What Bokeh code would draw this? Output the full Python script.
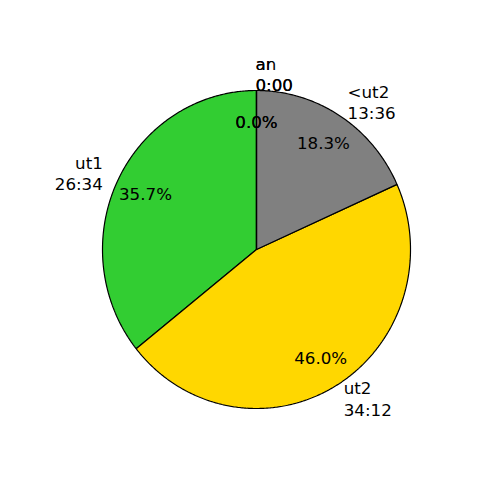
import numpy as np
from bokeh.plotting import figure
from bokeh.models import Range1d, ColumnDataSource
from bokeh.embed import file_html
from bokeh.resources import INLINE
from bokeh.core.properties import value

# ---- data ----
labels = ["ut1", "ut2", "<ut2", "ar", "an"]
seconds = [1594, 2052, 816, 0, 0]          # 26:34, 34:12, 13:36, 0:00, 0:00
colors = ["#32CD32", "#FFD700", "#808080", "#1f77b4", "#ff7f0e"]

start_angle = 90.0
label_dist = 1.1
pct_dist = 0.8

total = float(sum(seconds))
fracs = [s / total for s in seconds]

# ---- figure ----
W, H = 484, 484
cx, cy = 256.0, 249.0     # pie centre in figure pixels
rx, ry = 154.0, 159.0     # pixels per unit radius
p = figure(width=W, height=H, output_backend="svg", toolbar_location=None,
           x_range=Range1d(-cx / rx, (W - cx) / rx),
           y_range=Range1d(-(H - cy) / ry, cy / ry),
           x_axis_type=None, y_axis_type=None, min_border=0)
p.grid.visible = False
p.outline_line_color = None
p.background_fill_color = "white"
p.border_fill_color = "white"

xs, ys = [], []
lab_x, lab_y, lab_t, lab_align = [], [], [], []
pct_x, pct_y, pct_t = [], [], []
theta = start_angle
for lab, sec, fr in zip(labels, seconds, fracs):
    t1 = theta + 360.0 * fr
    ang = np.radians(np.linspace(theta, t1, max(2, int(abs(t1 - theta)) * 2 + 2)))
    xs.append([0.0] + list(np.cos(ang)))
    ys.append([0.0] + list(np.sin(ang)))
    mid = np.radians((theta + t1) / 2.0)
    c, s = np.cos(mid), np.sin(mid)
    lab_x.append(label_dist * c)
    lab_y.append(label_dist * s)
    lab_t.append(f"{lab}\n{sec // 60}:{sec % 60:02d}")
    lab_align.append("left" if c >= 0 else "right")
    pct_x.append(pct_dist * c)
    pct_y.append(pct_dist * s)
    pct_t.append(f"{fr * 100:.1f}%")
    theta = t1

p.patches(xs=xs, ys=ys, fill_color=colors, line_color="black", line_width=1.2)

src = ColumnDataSource(dict(x=lab_x, y=lab_y, text=lab_t, align=lab_align))
p.text(x="x", y="y", text="text", text_align="align", source=src,
       text_baseline="middle", text_font=value("DejaVu Sans"),
       text_font_size="16.7px", text_color="black", text_line_height=1.08,
       x_offset=-1)

p.text(x=pct_x, y=pct_y, text=pct_t, text_align="center",
       text_baseline="middle", text_font=value("DejaVu Sans"),
       text_font_size="16.7px", text_color="black")

open("out.html", "w").write(file_html(p, INLINE))
